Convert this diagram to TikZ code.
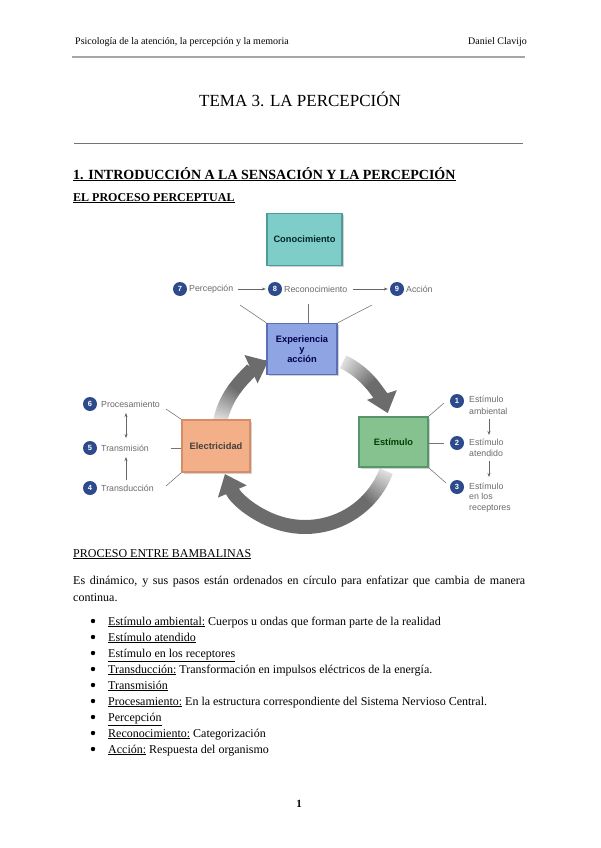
\documentclass[tikz,border=0pt]{standalone}
\usepackage{fontspec}
\setmainfont{Liberation Serif}
\newfontfamily\diag{Liberation Sans}
\usetikzlibrary{arrows.meta,shadows}
\definecolor{numblue}{HTML}{2D4A8C}
\definecolor{tealbox}{HTML}{7FCDC9}
\definecolor{tealedge}{HTML}{4E9C99}
\definecolor{bluebox}{HTML}{8FA4E3}
\definecolor{blueedge}{HTML}{5A6FB5}
\definecolor{orangebox}{HTML}{F3AF88}
\definecolor{orangeedge}{HTML}{D88C66}
\definecolor{greenbox}{HTML}{86C290}
\definecolor{greenedge}{HTML}{57966A}
\definecolor{arrowgray}{HTML}{6C6C6C}
\tikzset{
  txt/.style={anchor=base west, inner sep=0pt},
  pbox/.style={draw, line width=1.3pt, inner sep=2pt, align=center,
    font=\diag\bfseries\fontsize{9.3}{10}\selectfont, text=black!75,
    drop shadow={shadow xshift=1.6pt, shadow yshift=-1.6pt, opacity=.35}},
  num/.style={circle, fill=numblue, text=white, inner sep=0pt, minimum size=14pt,
    font=\diag\bfseries\fontsize{7.5}{8}\selectfont},
  lbl/.style={anchor=west, inner sep=0pt, align=left, text=black!58,
    font=\diag\fontsize{8.8}{11.5}\selectfont},
  thin/.style={draw=black!55, line width=0.55pt},
  smallarr/.style={draw=black!60, line width=0.55pt, -{Stealth[length=4pt,width=3pt]}},
  cyc/.style={draw=arrowgray, line width=14pt, -{Triangle[width=30pt,length=19pt]}},
  bul/.style={circle, fill=black, inner sep=0pt, minimum size=4.4pt}
}
\newcommand{\gradarc}[2]{%
  \pgfmathsetmacro{\ga}{#1}%
  \pgfmathsetmacro{\gb}{#2}%
  \pgfmathsetmacro{\gm}{\ga+23.7}%
  \draw[cyc] ([shift={(\gm:87)}]C) arc[start angle=\gm, end angle=\gb, radius=87];
  \foreach \i in {0,...,23} {%
    \pgfmathsetmacro{\sa}{\ga+\i}%
    \pgfmathsetmacro{\sb}{\ga+\i+1.3}%
    \pgfmathtruncatemacro{\pc}{min(100,22+78*\i/23)}%
    \draw[draw=arrowgray!\pc!white, line width=14pt] ([shift={(\sa:87)}]C) arc[start angle=\sa, end angle=\sb, radius=87];
  }%
}
\begin{document}
\begin{tikzpicture}[x=1pt,y=-1pt]
\useasboundingbox (0,0) rectangle (600,848);
\fill[white] (0,0) rectangle (600,848);

% header
\node[txt, font=\fontsize{10}{11}\selectfont] (hdl) at (75,45) {Psicología de la atención, la percepción y la memoria};
\node[txt, anchor=base east, font=\fontsize{10}{11}\selectfont] (hdr) at (527,45) {Daniel Clavijo};
\coordinate (hl1) at (72,57); \coordinate (hl2) at (525,57);
\draw[black!35, line width=1.6pt] (hl1) -- (hl2);

% title
\node[anchor=base, inner sep=0pt, font=\fontsize{17}{19}\selectfont] (title) at (300,107) {TEMA 3. LA PERCEPCIÓN};
\coordinate (tl1) at (74,143); \coordinate (tl2) at (523,143);
\draw[black!55, line width=0.7pt] (tl1) -- (tl2);

\node[txt, font=\bfseries\fontsize{14}{16}\selectfont] (h1) at (73,179) {\underline{1. INTRODUCCIÓN A LA SENSACIÓN Y LA PERCEPCIÓN}};
\node[txt, font=\bfseries\fontsize{12}{14}\selectfont] (h2) at (73,201) {\underline{EL PROCESO PERCEPTUAL}};

% ---------- diagram ----------
\coordinate (C) at (305,440);
\gradarc{-64}{-18}
\gradarc{21}{157}
\gradarc{193}{245}

\node[pbox, fill=tealbox, draw=tealedge, minimum width=75pt, minimum height=52pt, text=black!70!teal] (con) at (304.5,239.5) {Conocimiento};
\node[pbox, fill=bluebox, draw=blueedge, minimum width=70pt, minimum height=51pt, text=black!70!blue] (exp) at (302,349) {Experiencia\\y\\acción};
\node[pbox, fill=orangebox, draw=orangeedge, minimum width=68pt, minimum height=52pt] (ele) at (216,446) {Electricidad};
\node[pbox, fill=greenbox, draw=greenedge, minimum width=69pt, minimum height=50pt, text=black!75!green] (est) at (393.5,442) {Estímulo};

% top row
\node[num] (n7) at (180,289) {7};
\node[lbl] (t7) at (189,289) {Percepción};
\node[num] (n8) at (275,289) {8};
\node[lbl] (t8) at (284,289) {Reconocimiento};
\node[num] (n9) at (397,289) {9};
\node[lbl] (t9) at (406,289) {Acción};
\draw[smallarr] ([xshift=5pt]t7.east) -- ([xshift=-2pt]n8.west);
\draw[smallarr] ([xshift=5pt]t8.east) -- ([xshift=-2pt]n9.west);
\coordinate (r1) at (240,305); \coordinate (r2) at (308,304); \coordinate (r3) at (372,305);
\draw[thin] (r1) -- (exp.north west);
\draw[thin] (r2) -- (exp.north -| r2);
\draw[thin] (r3) -- (exp.north east);

% left column
\node[num] (n6) at (90,404) {6};
\node[lbl] (t6) at (101,404) {Procesamiento};
\node[num] (n5) at (90,448) {5};
\node[lbl] (t5) at (101,448) {Transmisión};
\node[num] (n4) at (90,488) {4};
\node[lbl] (t4) at (101,488) {Transducción};
\coordinate (a6) at (126,413); \coordinate (a5) at (126,438);
\coordinate (b5) at (126,457); \coordinate (b4) at (126,480);
\draw[smallarr, {Stealth[length=4pt,width=3pt]}-{Stealth[length=4pt,width=3pt]}] (a6) -- (a5);
\draw[smallarr] (b4) -- (b5);
\coordinate (l6) at (166,409); \coordinate (l5) at (171,448); \coordinate (l4) at (166,486);
\draw[thin] (l6) -- (ele.north west);
\draw[thin] (l5) -- (l5 -| ele.west);
\draw[thin] (l4) -- (ele.south west);

% right column
\node[num] (n1) at (457,401) {1};
\node[lbl] (t1) at (469,405.5) {Estímulo\\ambiental};
\node[num] (n2) at (457,443) {2};
\node[lbl] (t2) at (469,448) {Estímulo\\atendido};
\node[num] (n3) at (457,487) {3};
\node[lbl, font=\diag\fontsize{8.8}{10.8}\selectfont] (t3) at (469,497.5) {Estímulo\\en los\\receptores};
\coordinate (c1) at (489,419); \coordinate (c2) at (489,435);
\coordinate (d1) at (489,461); \coordinate (d2) at (489,477);
\draw[smallarr] (c1) -- (c2);
\draw[smallarr] (d1) -- (d2);
\coordinate (m1) at (444,403); \coordinate (m2) at (444,443); \coordinate (m3) at (446,483);
\draw[thin] (est.north east) -- (m1);
\draw[thin] (est.east |- m2) -- (m2);
\draw[thin] (est.south east) -- (m3);

% ---------- text ----------
\node[txt, font=\fontsize{12}{14}\selectfont] (h3) at (73,557) {\underline{PROCESO ENTRE BAMBALINAS}};
\node[txt, font=\fontsize{12}{14}\selectfont] (p1) at (73,584) {\makebox[452pt][s]{Es dinámico, y sus pasos están ordenados en círculo para enfatizar que cambia de manera}};
\node[txt, font=\fontsize{12}{14}\selectfont] (p2) at (73,601) {continua.};

\begin{scope}[every node/.append style={font=\fontsize{12}{14}\selectfont}]
\node[txt] (i1) at (108,625) {\underline{Estímulo ambiental:} Cuerpos u ondas que forman parte de la realidad};
\node[txt] (i2) at (108,641) {\underline{Estímulo atendido}};
\node[txt] (i3) at (108,657) {\underline{Estímulo en los receptores}};
\node[txt] (i4) at (108,673) {\underline{Transducción:} Transformación en impulsos eléctricos de la energía.};
\node[txt] (i5) at (108,689) {\underline{Transmisión}};
\node[txt] (i6) at (108,705) {\underline{Procesamiento:} En la estructura correspondiente del Sistema Nervioso Central.};
\node[txt] (i7) at (108,721) {\underline{Percepción}};
\node[txt] (i8) at (108,737) {\underline{Reconocimiento:} Categorización};
\node[txt] (i9) at (108,753) {\underline{Acción:} Respuesta del organismo};
\end{scope}
\foreach \k in {1,...,9} {
  \node[bul] (b\k) at (93,{621+16*(\k-1)}) {};
}

\node[anchor=base, inner sep=0pt, font=\bfseries\fontsize{11}{13}\selectfont] (pg) at (299,807) {1};
\end{tikzpicture}
\end{document}
